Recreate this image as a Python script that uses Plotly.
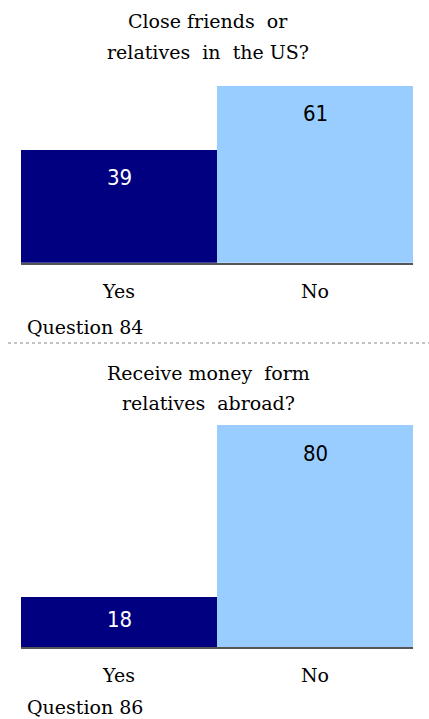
import plotly.graph_objects as go

categories = ["Yes", "No"]
q84_values = [39, 61]
q86_values = [18, 80]
title_q84 = ["Close friends  or", "relatives  in  the US?"]
title_q86 = ["Receive money  form", "relatives  abroad?"]
notes = ["Question 84", "Question 86"]
colors = ["#000080", "#99CCFF"]
text_colors = ["white", "black"]

W, H = 429, 719
def py(p):
    return 1 - p / H

fig = go.Figure()
fig.add_trace(go.Bar(x=categories, y=q84_values, marker=dict(color=colors, line=dict(width=0)),
                     xaxis="x", yaxis="y", hoverinfo="skip", showlegend=False))
fig.add_trace(go.Bar(x=categories, y=q86_values, marker=dict(color=colors, line=dict(width=0)),
                     xaxis="x2", yaxis="y2", hoverinfo="skip", showlegend=False))

serif = "DejaVu Serif, serif"
num_font = "Liberation Sans Narrow, DejaVu Sans Condensed, Arial Narrow, sans-serif"
xcommon = dict(range=[-0.5, 1.5], domain=[21 / W, 413 / W], showline=True, linecolor="#555555",
               linewidth=2, ticks="outside", ticklen=10, tickcolor="rgba(0,0,0,0)",
               tickfont=dict(family=serif, size=19, color="black"), showgrid=False, zeroline=False,
               fixedrange=True)
ycommon = dict(showticklabels=False, showgrid=False, zeroline=False, showline=False, fixedrange=True)

fig.update_layout(
    width=W, height=H, margin=dict(l=0, r=0, t=0, b=0),
    paper_bgcolor="white", plot_bgcolor="white", bargap=0,
    xaxis=dict(**xcommon, anchor="y"),
    yaxis=dict(**ycommon, range=[0, 70], domain=[py(262.7), py(262.7 - 70 * 2.9)]),
    xaxis2=dict(**xcommon, anchor="y2"),
    yaxis2=dict(**ycommon, range=[0, 85], domain=[py(647), py(647 - 85 * 2.775)]),
)

ann = []
for vals, xa, ya in [(q84_values, "x", "y"), (q86_values, "x2", "y2")]:
    for c, v, tc in zip(categories, vals, text_colors):
        s = -28 if v > 25 else -22
        ann.append(dict(x=c, y=v, xref=xa, yref=ya, text=str(v), showarrow=False, yshift=s,
                        font=dict(family=num_font, size=22, color=tc)))

for lines, ys in [(title_q84, [21, 52]), (title_q86, [373, 403])]:
    for line, yy in zip(lines, ys):
        ann.append(dict(x=208 / W, y=py(yy), xref="paper", yref="paper", text=line.replace("  ", "&nbsp; "),
                        showarrow=False, yanchor="middle",
                        font=dict(family=serif, size=19, color="black")))
for note, yy in zip(notes, [327, 707]):
    ann.append(dict(x=25 / W, y=py(yy), xref="paper", yref="paper", text=note, showarrow=False,
                    xanchor="left", yanchor="middle", font=dict(family=serif, size=19, color="black")))
fig.update_layout(annotations=ann)

fig.add_shape(type="line", xref="paper", yref="paper", x0=8 / W, x1=1, y0=py(343), y1=py(343),
              line=dict(color="#b0b0b0", width=1.5, dash="dot"))

fig.write_html("out.html", config={"displayModeBar": False},
               post_script="document.body.style.margin='0';document.body.style.padding='0';document.body.style.overflow='hidden';")
